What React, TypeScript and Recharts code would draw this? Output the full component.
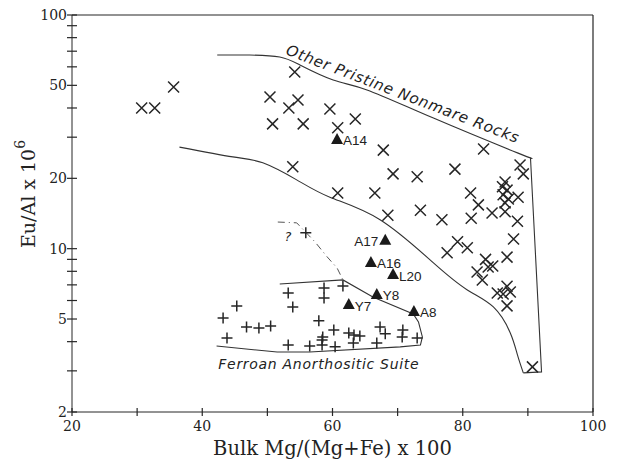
import React from 'react';
import { ScatterChart, Scatter, XAxis, YAxis, ReferenceLine } from 'recharts';

// "other pristine nonmare rocks" (x marks)
const nonmareX = [30.7, 32.7, 35.6, 50.4, 54.7, 53.3, 50.8, 55.5, 54.2, 53.9, 59.6, 63.5, 60.8, 67.8, 83.2, 69.3, 73.0, 78.8, 88.8, 89.3, 60.8, 66.5, 81.2, 88.5, 86.5, 86.1, 86.8, 86.2, 87.0, 86.5, 68.5, 73.5, 76.8, 81.3, 82.4, 84.5, 86.5, 88.4, 87.8, 79.2, 80.7, 77.6, 86.8, 83.5, 83.9, 82.2, 83.0, 86.8, 85.3, 87.3, 86.2, 86.8, 90.7, 84.6];
const nonmareY = [40.0, 40.0, 49.2, 44.6, 43.3, 40.0, 34.2, 34.2, 57.0, 22.4, 39.6, 35.9, 32.9, 26.4, 26.7, 20.9, 20.3, 21.9, 22.8, 20.9, 17.3, 17.3, 17.3, 16.6, 19.3, 18.4, 17.8, 17.0, 16.3, 15.7, 13.9, 14.6, 13.3, 13.5, 15.4, 14.2, 14.4, 13.1, 11.0, 10.7, 10.1, 9.6, 9.2, 9.0, 8.35, 7.95, 7.35, 6.9, 6.46, 6.53, 6.4, 5.69, 3.12, 8.43];

// ferroan anorthosites (+ marks)
const ferroanX = [55.9, 53.2, 53.9, 58.7, 58.7, 61.6, 45.3, 43.2, 46.8, 48.7, 50.5, 43.8, 53.2, 56.5, 57.9, 58.5, 58.4, 60.4, 60.2, 62.5, 63.3, 64.2, 63.2, 67.3, 68.1, 66.8, 70.8, 70.7, 73.0, 58.4];
const ferroanY = [11.7, 6.46, 5.63, 6.79, 6.15, 6.92, 5.69, 5.05, 4.62, 4.58, 4.67, 4.15, 3.87, 3.83, 4.91, 4.19, 3.87, 3.80, 4.49, 4.36, 4.27, 4.23, 3.95, 4.62, 4.32, 3.95, 4.49, 4.19, 4.15, 4.07];

// named samples (triangles)
const sampleNames = ['A14', 'A17', 'A16', 'L20', 'Y8', 'Y7', 'A8'];
const sampleX = [60.7, 68.1, 65.9, 69.3, 66.8, 62.5, 72.5];
const sampleY = [29.2, 10.8, 8.69, 7.71, 6.34, 5.74, 5.36];

// field boundaries: nonmare field top curve, right edge, lower curve
const nmTopX = [42.3, 47.3, 51.9, 55.0, 60.1, 65.3, 75.5, 88.4, 90.4];
const nmTopY = [67.4, 67.4, 66.1, 61.1, 52.7, 47.8, 36.2, 25.7, 24.5];
const nmEdgeX = [90.4, 92.1, 89.3];
const nmEdgeY = [24.5, 2.97, 2.94];
const nmLowX = [89.3, 88.4, 87.3, 84.7, 80.7, 75.5, 67.3, 59.6, 54.5, 49.3, 44.7, 36.5];
const nmLowY = [2.94, 3.51, 4.36, 5.63, 6.66, 8.69, 13.3, 16.6, 19.7, 23.3, 24.7, 27.2];
const ferroanFieldX = [51.9, 61.6, 66.2, 72.4, 73.2, 73.8, 73.5, 70.4, 56.5, 51.5, 42.2];
const ferroanFieldY = [7.06, 7.35, 6.21, 5.26, 4.86, 4.19, 3.87, 3.80, 3.61, 3.61, 3.83];
const uncertainX = [51.6, 54.5, 57.3, 59.2, 60.7, 61.6];
const uncertainY = [13.0, 12.9, 10.7, 9.21, 8.27, 7.35];

// region captions
const captions = ['Other Pristine Nonmare Rocks', 'Ferroan Anorthositic Suite', '?'];
const captionX = [70.8, 57.9, 53.2];
const captionY = [45.9, 3.21, 11.3];

const xTicks = [20, 30, 40, 50, 60, 70, 80, 90, 100];
const xLabels = [20, 40, 60, 80, 100];
const yTicks = [2, 3, 4, 5, 6, 7, 8, 9, 10, 20, 30, 40, 50, 60, 70, 80, 90, 100];
const yLabels = [2, 5, 10, 20, 50, 100];

const zip = (xs: number[], ys: number[]) => xs.map((x, i) => ({ x, y: ys[i] }));

const nonmare = zip(nonmareX, nonmareY);
const ferroan = zip(ferroanX, ferroanY);
const samples = sampleNames.map((name, i) => ({ name, x: sampleX[i], y: sampleY[i] }));
const nmTop = zip(nmTopX, nmTopY);
const nmEdge = zip(nmEdgeX, nmEdgeY);
const nmLow = zip(nmLowX, nmLowY);
const ferroanField = zip(ferroanFieldX, ferroanFieldY);
const uncertain = zip(uncertainX, uncertainY);
const captionData = captions.map((text, i) => ({ text, x: captionX[i], y: captionY[i] }));

const INK = '#262626';
const serif = '"DejaVu Serif", serif';
const boundary = { stroke: '#333', strokeWidth: 1.1 };

const Cross = ({ cx, cy }: any) => (
  <path d={`M${cx - 5.5},${cy - 5.5}L${cx + 5.5},${cy + 5.5}M${cx - 5.5},${cy + 5.5}L${cx + 5.5},${cy - 5.5}`} stroke={INK} strokeWidth={1.5} fill="none" />
);

const Plus = ({ cx, cy }: any) => (
  <path d={`M${cx - 5.5},${cy}L${cx + 5.5},${cy}M${cx},${cy - 5.5}L${cx},${cy + 5.5}`} stroke={INK} strokeWidth={1.5} fill="none" />
);

const Triangle = ({ cx, cy, payload }: any) => {
  const left = payload.name === 'A17';
  return (
    <g>
      <path d={`M${cx},${cy - 7}L${cx + 6},${cy + 4}L${cx - 6},${cy + 4}Z`} fill="#1a1a1a" />
      <text x={left ? cx - 7 : cx + 6} y={cy + 1} textAnchor={left ? 'end' : 'start'} dominantBaseline="central"
        fontFamily='"Liberation Sans", sans-serif' fontSize={13.5} fill="#222">{payload.name}</text>
    </g>
  );
};

const Nothing = () => <g />;

const Caption = ({ cx, cy, payload }: any) => {
  const top = payload.text.startsWith('Other');
  const q = payload.text === '?';
  return (
    <text x={cx} y={cy} textAnchor="middle" dominantBaseline="central" transform={`rotate(${top ? 21 : 0},${cx},${cy})`}
      fontFamily='"DejaVu Sans", sans-serif' fontStyle="italic" fontSize={q ? 13 : top ? 15 : 14}
      letterSpacing={top ? 0.8 : 0.7} fill="#222">
      {payload.text}
    </text>
  );
};

const YTick = ({ x, y, payload }: any) => (
  <g>
    <line x1={x - 5} x2={x + 5} y1={y} y2={y} stroke={INK} strokeWidth={1.2} />
    {yLabels.includes(payload.value) && (
      <text x={x - 5} y={y} textAnchor="end" dominantBaseline="central" fontFamily={serif} fontSize={14} fill="#222">{payload.value}</text>
    )}
  </g>
);

const XTick = ({ x, y, payload }: any) => (
  <g>
    <line x1={x} x2={x} y1={y - 4} y2={y + 4} stroke={INK} strokeWidth={1.2} />
    {xLabels.includes(payload.value) && (
      <text x={x} y={y + 14} textAnchor="middle" dominantBaseline="central" fontFamily={serif} fontSize={14} fill="#222">{payload.value}</text>
    )}
  </g>
);

const XTitle = (p: any) => {
  const vb = p.viewBox;
  return (
    <text x={vb.x + vb.width / 2} y={vb.y + 36} textAnchor="middle" dominantBaseline="central" fontFamily={serif} fontSize={19.5} fill="#222">
      Bulk Mg/(Mg+Fe) x 100
    </text>
  );
};

const YTitle = () => (
  <text x={28} y={194} textAnchor="middle" dominantBaseline="central" transform="rotate(-90,28,194)" fontFamily={serif} fontSize={19} fill="#222">
    Eu/Al x 10<tspan dy={-8} fontSize={14}>6</tspan>
  </text>
);

export default function App() {
  return (
    <div style={{ position: 'absolute', left: 0, top: 0, background: '#fff' }}>
      <ScatterChart width={618} height={462} margin={{ top: 15, right: 25, bottom: 0, left: 0 }}>
        <XAxis type="number" dataKey="x" domain={[20, 100]} ticks={xTicks} interval={0} height={50}
          stroke={INK} tickSize={0} tickMargin={0} tickLine={false} tick={<XTick />} label={XTitle} />
        <YAxis type="number" dataKey="y" scale="log" domain={[2, 100]} ticks={yTicks} interval={0} width={72}
          allowDataOverflow stroke={INK} tickSize={0} tickMargin={0} tickLine={false} tick={<YTick />} label={YTitle} />
        <ReferenceLine y={100} stroke={INK} strokeWidth={1.2} />
        <ReferenceLine x={100} stroke={INK} strokeWidth={1.2} />
        <Scatter data={nmTop} line={boundary} lineJointType="natural" shape={Nothing} isAnimationActive={false} />
        <Scatter data={nmEdge} line={boundary} shape={Nothing} isAnimationActive={false} />
        <Scatter data={nmLow} line={boundary} lineJointType="natural" shape={Nothing} isAnimationActive={false} />
        <Scatter data={ferroanField} line={boundary} shape={Nothing} isAnimationActive={false} />
        <Scatter data={uncertain} line={{ stroke: '#555', strokeWidth: 1, strokeDasharray: '7 4 1 4' }} shape={Nothing} isAnimationActive={false} />
        <Scatter data={nonmare} shape={Cross} isAnimationActive={false} />
        <Scatter data={ferroan} shape={Plus} isAnimationActive={false} />
        <Scatter data={samples} shape={Triangle} isAnimationActive={false} />
        <Scatter data={captionData} shape={Caption} isAnimationActive={false} />
      </ScatterChart>
    </div>
  );
}
